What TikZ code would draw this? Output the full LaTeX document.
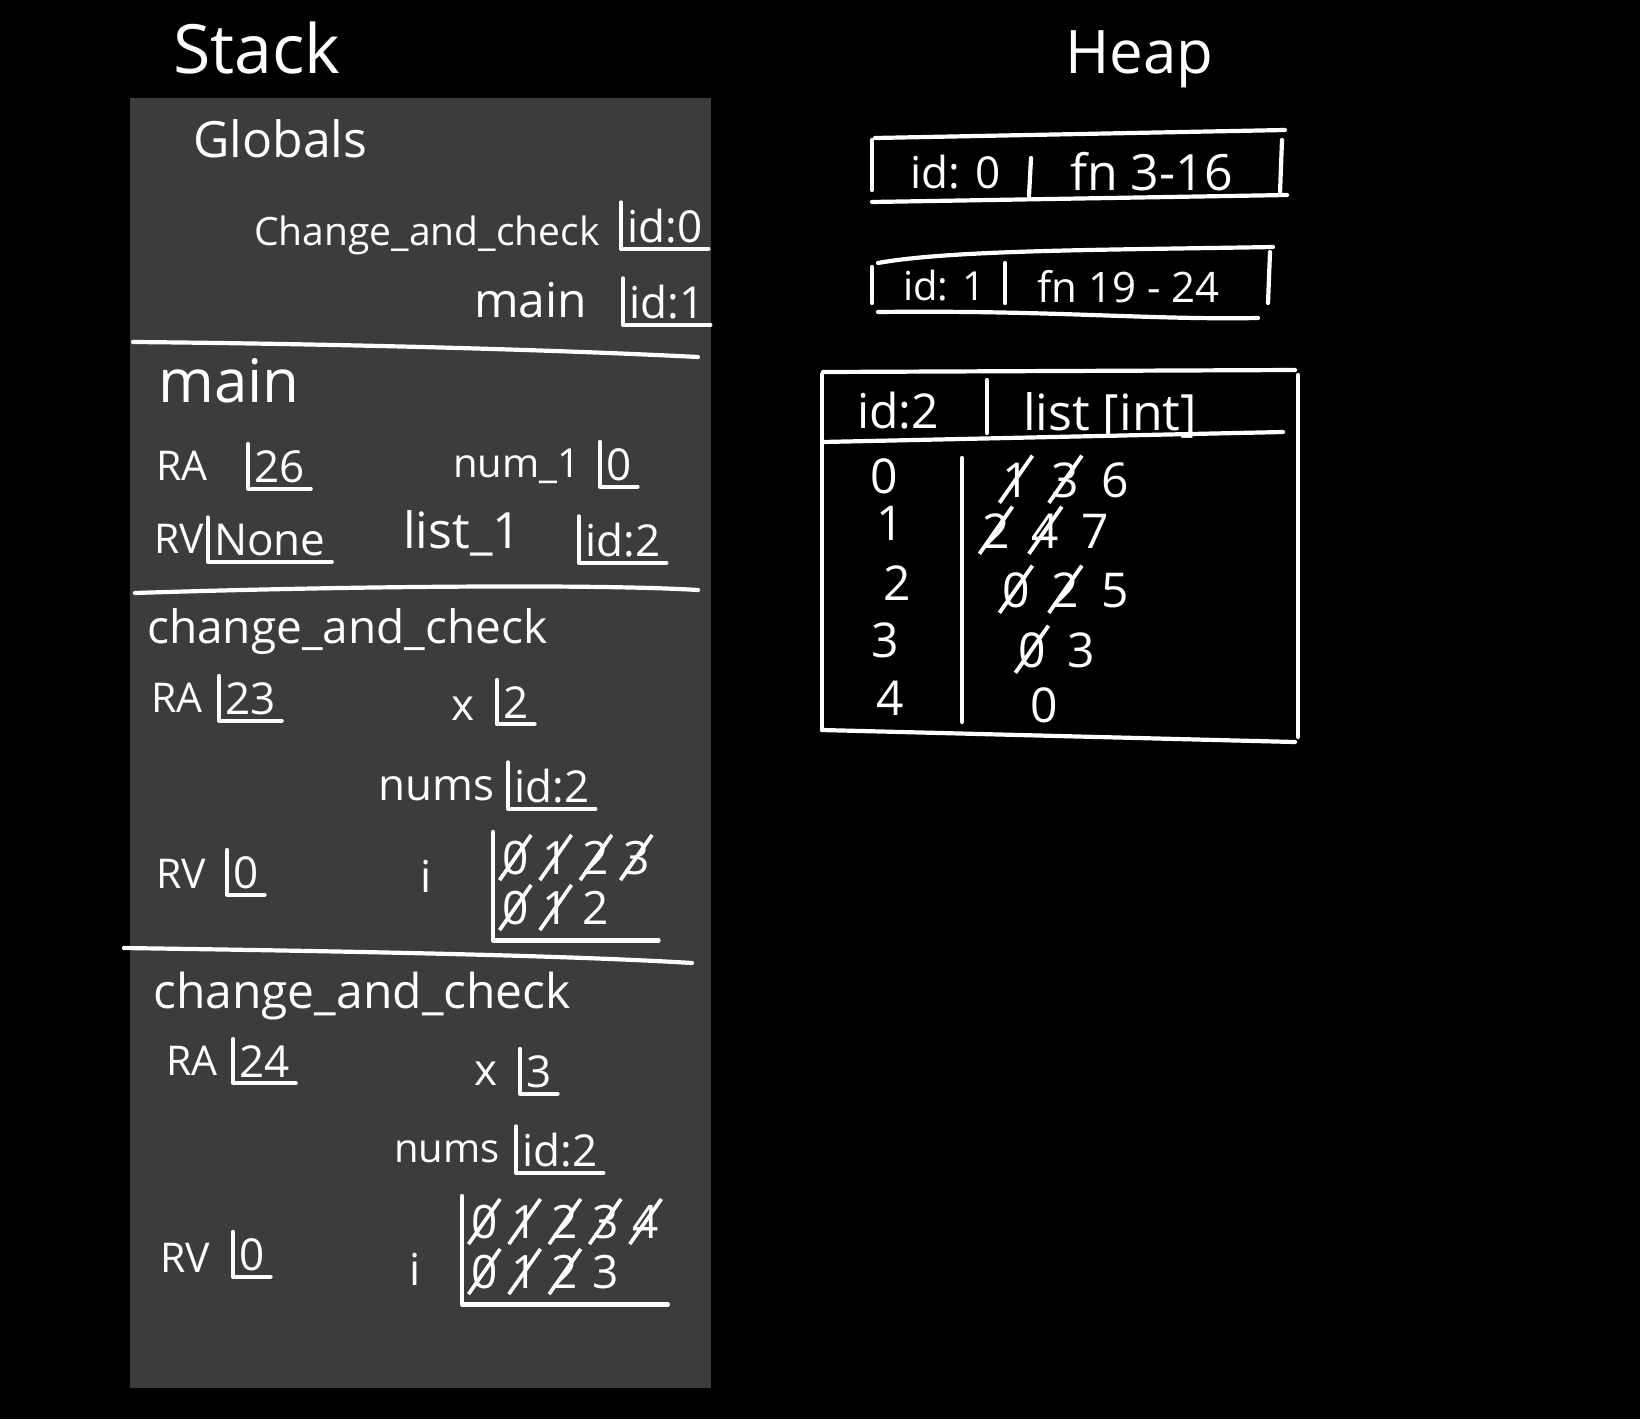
\documentclass[tikz,border=0pt]{standalone}
\usepackage{fontspec}
\setmainfont{Open Sans}
\usepackage{graphicx}
\definecolor{stackgrey}{HTML}{3C3C3C}
% a digit that has been struck through
\newcommand\xd[1]{\ooalign{#1\cr\hidewidth\raisebox{.33em}{\rotatebox[origin=c]{55}{\rule{1.2em}{.08em}}}\hidewidth\cr}}

\begin{document}
\begin{tikzpicture}[x=1pt,y=-1pt,line cap=round,line join=round,
  ink/.style={draw=white,line width=4.2pt},
  hand/.style={text=white,inner sep=0pt,anchor=base west,font=\fontsize{44}{48}\selectfont},
  title/.style={hand,font=\fontsize{68}{72}\selectfont},
  frame/.style={hand,font=\fontsize{46}{50}\selectfont},
  reg/.style={hand,font=\fontsize{41}{45}\selectfont},
  slot/.style={hand,inner sep=6pt},
  hist/.style={hand,inner sep=9pt,anchor=north west,align=left,
    font=\fontsize{46}{50}\selectfont,execute at begin node={\spaceskip=14pt\relax}},
  cell/.style={hand,font=\fontsize{48}{52}\selectfont,execute at begin node={\spaceskip=22pt\relax}}]
\fill[black] (0,0) rectangle (1640,1419);
\useasboundingbox (0,0) rectangle (1640,1419);
\fill[stackgrey] (130,98) rectangle (711,1388);
\node[title] (stacktitle) at (173,73) {Stack};
\node[title,font=\fontsize{60}{64}\selectfont] (heaptitle) at (1065,73) {Heap};
% globals
\node[hand,font=\fontsize{50}{54}\selectfont] (globals) at (193,157) {Globals};
\node[hand,font=\fontsize{39}{43}\selectfont] (gcac) at (254,245) {Change\_and\_check};
\node[slot] (gcacv) at (621,242) {id:0};
\node[hand,font=\fontsize{48}{52}\selectfont] (gmain) at (474,317) {main};
\node[slot] (gmainv) at (623,318) {id:1};
\draw[ink] (gcacv.north west) |- (gcacv.south east);
\draw[ink] (gmainv.north west) |- (gmainv.south east);
\draw[ink] (133,342) .. controls (350,344) and (560,350) .. (698,357);
% frame: main
\node[hand,font=\fontsize{60}{64}\selectfont] (fmain) at (158,402) {main};
\node[reg] (ra1) at (156,480) {RA};
\node[slot] (ra1v) at (248,482) {26};
\node[hand,font=\fontsize{40}{44}\selectfont] (num1) at (453,477) {num\_1};
\node[slot] (num1v) at (600,480) {0};
\node[reg] (rv1) at (154,553) {RV};
\node[slot] (rv1v) at (208,555) {None};
\node[hand,font=\fontsize{50}{54}\selectfont] (list1) at (403,548) {list\_1};
\node[slot] (list1v) at (579,556) {id:2};
\draw[ink] (ra1v.north west) |- (ra1v.south east);
\draw[ink] (num1v.north west) |- (num1v.south east);
\draw[ink] (rv1v.north west) |- (rv1v.south east);
\draw[ink] (list1v.north west) |- (list1v.south east);
\draw[ink] (135,593) .. controls (350,586) and (600,584) .. (698,590);
% frame: change_and_check (first call)
\node[frame] (fcac1) at (147,643) {change\_and\_check};
\node[reg] (ra2) at (151,712) {RA};
\node[slot] (ra2v) at (219,714) {23};
\node[hand] (x1) at (451,720) {x};
\node[slot] (x1v) at (497,718) {2};
\node[hand] (nums1) at (378,800) {nums};
\node[slot] (nums1v) at (508,802) {id:2};
\node[reg] (rv2) at (156,888) {RV};
\node[slot] (rv2v) at (227,888) {0};
\node[hand] (i1) at (420,892) {i};
\node[hist] (i1v) at (493,832) {\xd0 \xd1 \xd2 \xd3\\\xd0 \xd1 2};
\draw[ink] (ra2v.north west) |- (ra2v.south east);
\draw[ink] (x1v.north west) |- (x1v.south east);
\draw[ink] (nums1v.north west) |- (nums1v.south east);
\draw[ink] (rv2v.north west) |- (rv2v.south east);
\draw[ink] (i1v.north west) |- (i1v.south east);
\draw[ink] (124,948) .. controls (330,951) and (560,955) .. (692,963);
% frame: change_and_check (second call)
\node[frame,font=\fontsize{48}{52}\selectfont] (fcac2) at (153,1008) {change\_and\_check};
\node[reg] (ra3) at (166,1075) {RA};
\node[slot] (ra3v) at (233,1077) {24};
\node[hand] (x2) at (474,1085) {x};
\node[slot] (x2v) at (520,1087) {3};
\node[hand,font=\fontsize{40}{44}\selectfont] (nums2) at (394,1162) {nums};
\node[slot] (nums2v) at (516,1166) {id:2};
\node[reg] (rv3) at (160,1272) {RV};
\node[slot] (rv3v) at (233,1270) {0};
\node[hand] (i2) at (409,1285) {i};
\node[hist] (i2v) at (462,1196) {\xd0 \xd1 \xd2 \xd3 \xd4\\\xd0 \xd1 \xd2 3};
\draw[ink] (ra3v.north west) |- (ra3v.south east);
\draw[ink] (x2v.north west) |- (x2v.south east);
\draw[ink] (nums2v.north west) |- (nums2v.south east);
\draw[ink] (rv3v.north west) |- (rv3v.south east);
\draw[ink] (i2v.north west) |- (i2v.south east);
% heap: functions
\node[hand] (f0id) at (910,188) {id: 0};
\node[hand,font=\fontsize{50}{54}\selectfont] (f0fn) at (1070,190) {fn 3-16};
\draw[ink] (875,138) -- (1285,130);
\draw[ink] (872,140) -- (872,190);
\draw[ink] (872,202) -- (1287,195);
\draw[ink] (1282,140) -- (1280,193);
\draw[ink] (1031,158) -- (1029,196);
\node[hand,font=\fontsize{40}{44}\selectfont] (f1id) at (903,300) {id: 1};
\node[hand,font=\fontsize{42}{46}\selectfont] (f1fn) at (1037,302) {fn 19 - 24};
\draw[ink] (878,263) .. controls (950,250) and (1100,250) .. (1273,247);
\draw[ink] (872,267) -- (872,303);
\draw[ink] (878,312) .. controls (1050,310) and (1150,320) .. (1258,318);
\draw[ink] (1270,252) -- (1268,303);
\draw[ink] (1005,263) -- (1005,303);
% heap: the list
\node[hand,font=\fontsize{48}{52}\selectfont] (l2id) at (857,428) {id:2};
\node[hand,font=\fontsize{50}{54}\selectfont] (l2type) at (1023,430) {list [int]};
\draw[ink] (823,372) -- (1295,370);
\draw[ink] (822,374) -- (822,730);
\draw[ink] (1298,375) -- (1298,737);
\draw[ink] (822,730) -- (1295,742);
\draw[ink] (823,442) -- (1283,432);
\draw[ink] (987,380) -- (987,433);
\draw[ink] (962,458) -- (962,722);
\node[cell] (k0) at (870,493) {0};
\node[cell] (k1) at (876,540) {1};
\node[cell] (k2) at (883,600) {2};
\node[cell] (k3) at (871,657) {3};
\node[cell] (k4) at (876,715) {4};
\node[cell] (v0) at (1002,497) {\xd1 \xd3 6};
\node[cell] (v1) at (982,548) {\xd2 \xd4 7};
\node[cell] (v2) at (1002,607) {\xd0 \xd2 5};
\node[cell] (v3) at (1018,667) {\xd0 3};
\node[cell] (v4) at (1030,722) {0};
\end{tikzpicture}
\end{document}
